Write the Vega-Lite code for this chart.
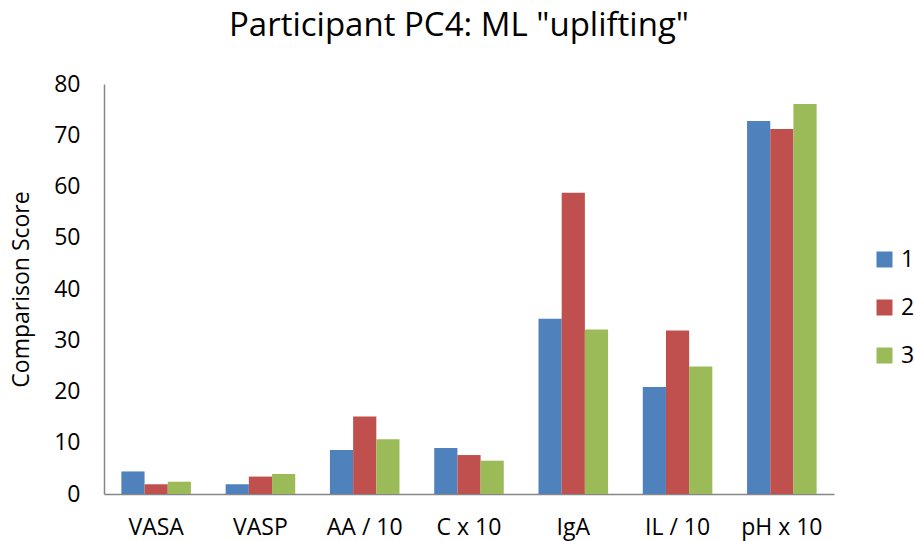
{
  "$schema": "https://vega.github.io/schema/vega-lite/v6.json",
  "autosize": "none",
  "width": 730,
  "height": 410,
  "padding": {"left": 104, "top": 84, "right": 80, "bottom": 47},
  "background": "white",
  "title": {
    "text": "Participant PC4: ML \"uplifting\"",
    "font": "Open Sans",
    "fontSize": 33,
    "fontWeight": "normal",
    "color": "#000000",
    "anchor": "middle",
    "dx": -10,
    "offset": 30
  },
  "data": {
    "values": [
      {"cat": "VASA", "series": "1", "value": 4.4},
      {"cat": "VASA", "series": "2", "value": 1.9},
      {"cat": "VASA", "series": "3", "value": 2.4},
      {"cat": "VASP", "series": "1", "value": 1.9},
      {"cat": "VASP", "series": "2", "value": 3.4},
      {"cat": "VASP", "series": "3", "value": 3.9},
      {"cat": "AA / 10", "series": "1", "value": 8.6},
      {"cat": "AA / 10", "series": "2", "value": 15.1},
      {"cat": "AA / 10", "series": "3", "value": 10.7},
      {"cat": "C x 10", "series": "1", "value": 9.0},
      {"cat": "C x 10", "series": "2", "value": 7.6},
      {"cat": "C x 10", "series": "3", "value": 6.5},
      {"cat": "IgA", "series": "1", "value": 34.2},
      {"cat": "IgA", "series": "2", "value": 58.8},
      {"cat": "IgA", "series": "3", "value": 32.1},
      {"cat": "IL / 10", "series": "1", "value": 20.9},
      {"cat": "IL / 10", "series": "2", "value": 31.9},
      {"cat": "IL / 10", "series": "3", "value": 24.9},
      {"cat": "pH x 10", "series": "1", "value": 72.8},
      {"cat": "pH x 10", "series": "2", "value": 71.2},
      {"cat": "pH x 10", "series": "3", "value": 76.1}
    ]
  },
  "mark": {"type": "bar"},
  "encoding": {
    "x": {
      "field": "cat",
      "type": "nominal",
      "sort": null,
      "scale": {"paddingInner": 0.333, "paddingOuter": 0.1667},
      "axis": {
        "title": null,
        "labelAngle": 0,
        "labelFont": "Open Sans",
        "labelFontSize": 23,
        "labelColor": "#000000",
        "labelPadding": 22,
        "ticks": false,
        "domainColor": "#868686",
        "domainWidth": 1.5
      }
    },
    "xOffset": {"field": "series", "type": "nominal"},
    "y": {
      "field": "value",
      "type": "quantitative",
      "scale": {"domain": [0, 80], "nice": false},
      "axis": {
        "title": "Comparison Score",
        "titleFont": "Open Sans",
        "titleFontSize": 23,
        "titleFontWeight": "normal",
        "titleColor": "#000000",
        "titlePadding": 20,
        "values": [0, 10, 20, 30, 40, 50, 60, 70, 80],
        "labelFont": "Open Sans",
        "labelFontSize": 23,
        "labelColor": "#000000",
        "labelPadding": 24,
        "ticks": false,
        "grid": false,
        "domainColor": "#868686",
        "domainWidth": 1.5
      }
    },
    "color": {
      "field": "series",
      "type": "nominal",
      "scale": {"domain": ["1", "2", "3"], "range": ["#4F81BD", "#C0504D", "#9BBB59"]},
      "legend": {
        "title": null,
        "orient": "none",
        "legendX": 769,
        "legendY": 164,
        "padding": 0,
        "symbolType": "square",
        "symbolSize": 256,
        "symbolStrokeWidth": 0,
        "labelFont": "Open Sans",
        "labelFontSize": 23,
        "labelColor": "#000000",
        "labelOffset": 5,
        "labelLimit": 40,
        "rowPadding": 24
      }
    }
  },
  "config": {"view": {"stroke": null}}
}
